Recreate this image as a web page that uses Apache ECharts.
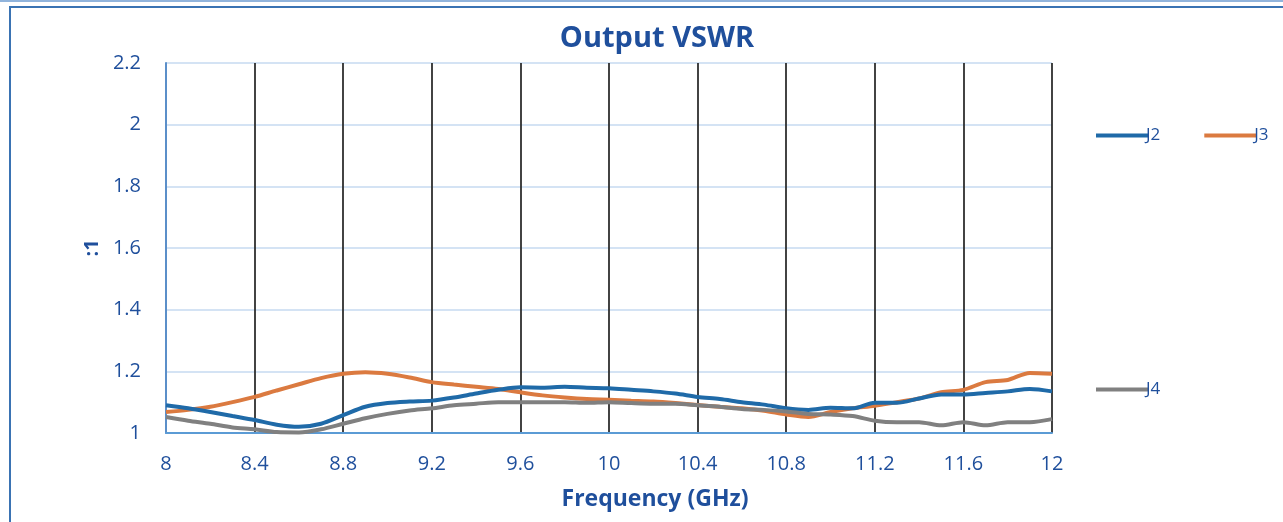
<!DOCTYPE html>
<html>
<head>
<meta charset="utf-8">
<script src="https://cdn.jsdelivr.net/npm/echarts@6/dist/echarts.min.js"></script>
<style>
html,body{margin:0;padding:0;background:#fff;}
#chart{width:1283px;height:522px;}
</style>
</head>
<body>
<div id="chart"></div>
<script>
const freq = [8.0,8.1,8.2,8.3,8.4,8.5,8.6,8.7,8.8,8.9,9.0,9.1,9.2,9.3,9.4,9.5,9.6,9.7,9.8,9.9,10.0,10.1,10.2,10.3,10.4,10.5,10.6,10.7,10.8,10.9,11.0,11.1,11.2,11.3,11.4,11.5,11.6,11.7,11.8,11.9,12.0];
const j2 = [1.090,1.080,1.068,1.055,1.042,1.027,1.020,1.030,1.058,1.085,1.097,1.102,1.105,1.115,1.128,1.140,1.148,1.147,1.150,1.147,1.145,1.140,1.135,1.128,1.117,1.110,1.100,1.092,1.080,1.075,1.082,1.080,1.098,1.098,1.112,1.125,1.125,1.130,1.135,1.143,1.135];
const j3 = [1.068,1.075,1.085,1.100,1.117,1.138,1.158,1.178,1.192,1.197,1.192,1.180,1.165,1.157,1.150,1.143,1.132,1.122,1.115,1.110,1.108,1.105,1.102,1.097,1.091,1.085,1.080,1.072,1.060,1.052,1.068,1.080,1.088,1.100,1.112,1.132,1.140,1.165,1.172,1.195,1.192];
const j4 = [1.052,1.040,1.030,1.018,1.012,1.003,1.002,1.012,1.030,1.048,1.062,1.073,1.080,1.090,1.095,1.100,1.100,1.100,1.100,1.098,1.100,1.097,1.095,1.095,1.090,1.085,1.078,1.075,1.070,1.062,1.060,1.055,1.040,1.035,1.035,1.025,1.035,1.025,1.035,1.035,1.045];
const xTicks = ['8','8.4','8.8','9.2','9.6','10','10.4','10.8','11.2','11.6','12'];
const yTicks = ['1','1.2','1.4','1.6','1.8','2','2.2'];
const seriesNames = ['J2','J3','J4'];

const textColor = '#1f4f9c';
const font = '"Open Sans", "Liberation Sans", sans-serif';
const pairs = arr => freq.map((f, i) => [f, arr[i]]);

const chart = echarts.init(document.getElementById('chart'), null, {renderer: 'canvas'});
chart.setOption({
  animation: false,
  backgroundColor: '#ffffff',
  textStyle: {fontFamily: font},
  graphic: [
    {type: 'rect', shape: {x: 10, y: 7, width: 1290, height: 530}, style: {fill: 'none', stroke: '#3a73b3', lineWidth: 2}, z: 0},
    {type: 'line', shape: {x1: 0, y1: 1, x2: 1283, y2: 1}, style: {stroke: '#6d9bd0', lineWidth: 1.5}, z: 0}
  ],
  title: [
    {text: 'Output VSWR', left: 652, top: 19, textAlign: 'center',
     textStyle: {fontFamily: font, fontSize: 29, fontWeight: 'bold', color: textColor}},
    {text: 'Frequency (GHz)', left: 650, top: 483, textAlign: 'center',
     textStyle: {fontFamily: font, fontSize: 23, fontWeight: 'bold', color: textColor}}
  ],
  legend: [
    {data: ['J2','J3'], left: 1091, top: 122, itemWidth: 52, itemHeight: 4, itemGap: 44, icon: 'rect',
     textStyle: {fontFamily: font, fontSize: 17, color: textColor, padding: [0,0,0,-7]}},
    {data: ['J4'], left: 1091, top: 376, itemWidth: 52, itemHeight: 4, icon: 'rect',
     textStyle: {fontFamily: font, fontSize: 17, color: textColor, padding: [0,0,0,-7]}}
  ],
  grid: {left: 166, right: 231, top: 63, bottom: 89, containLabel: false},
  xAxis: {
    type: 'value', min: 8, max: 12, interval: 0.4,
    axisLine: {show: true, onZero: false, lineStyle: {color: '#5b9bd5', width: 2}},
    axisTick: {show: false},
    axisLabel: {margin: 21, fontSize: 20, color: textColor, fontFamily: font,
      formatter: v => xTicks[Math.round((v - 8) / 0.4)]},
    splitLine: {show: true, lineStyle: {color: '#2e2e2e', width: 1.8}}
  },
  yAxis: {
    type: 'value', min: 1, max: 2.2, interval: 0.2,
    name: ':1', nameLocation: 'middle', nameRotate: 90, nameGap: 62,
    nameTextStyle: {fontSize: 20, fontWeight: 'bold', color: textColor, fontFamily: font},
    axisLine: {show: true, lineStyle: {color: '#5b8fc9', width: 2}},
    axisTick: {show: false},
    axisLabel: {margin: 25, fontSize: 20, color: textColor, fontFamily: font,
      formatter: v => yTicks[Math.round((v - 1) / 0.2)]},
    splitLine: {show: true, lineStyle: {color: '#c6daf0', width: 1.5}}
  },
  series: [
    {name: seriesNames[0], type: 'line', data: pairs(j2), symbol: 'none', smooth: 0.3,
     lineStyle: {color: '#1f6aa8', width: 4}, itemStyle: {color: '#1f6aa8'}, z: 3},
    {name: seriesNames[1], type: 'line', data: pairs(j3), symbol: 'none', smooth: 0.3,
     lineStyle: {color: '#db7a40', width: 4}, itemStyle: {color: '#db7a40'}, z: 2},
    {name: seriesNames[2], type: 'line', data: pairs(j4), symbol: 'none', smooth: 0.3,
     lineStyle: {color: '#808080', width: 4}, itemStyle: {color: '#808080'}, z: 4}
  ]
});
</script>
</body>
</html>
